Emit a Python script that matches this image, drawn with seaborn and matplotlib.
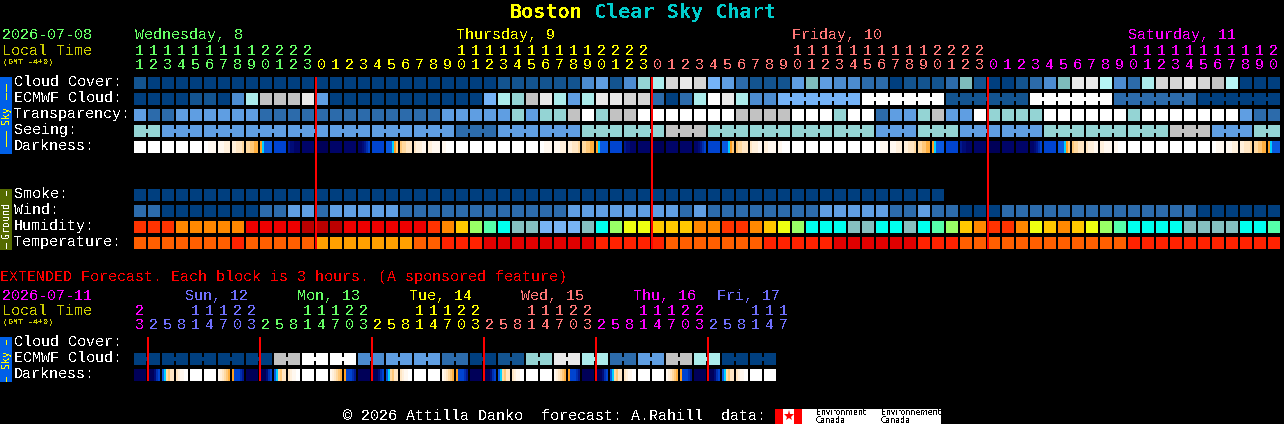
import numpy as np
import matplotlib
matplotlib.use("Agg")
import matplotlib.pyplot as plt
from matplotlib.colors import ListedColormap
from matplotlib.patches import Rectangle
import seaborn as sns

W, H = 1284, 424
sns.set_theme(style="white")
plt.rcParams["font.family"] = ["Liberation Mono", "DejaVu Sans Mono", "DejaVu Sans"]
plt.rcParams["text.antialiased"] = False

# ---------- data ----------
LEVELS = {"0": "#003F7F", "1": "#135490", "2": "#2C6BAB", "3": "#4C8CD0", "4": "#5F9EE2",
          "5": "#75B3F7", "6": "#7EBCBC", "7": "#94D4D4", "8": "#ABEBEB", "9": "#C2C2C2",
          "A": "#D5D5D5", "B": "#E9E9E9", "C": "#FFFFFF", "D": "#B6F6F6"}
GROUND = {"r": "#FF3300", "o": "#FF8800", "g": "#FFC800", "y": "#EEFF11", "l": "#99FF66",
          "m": "#55FFAA", "t": "#00FFEE", "R": "#EE0000", "K": "#BB0000", "e": "#85BFBF",
          "u": "#78B4F4", "v": "#FF5F00", "a": "#FFA000", "f": "#FF2200", "x": "#E00000"}
DARK = {"W": "#FFFFFF", "a": "#FFF8F0", "b": "#FFF0DC", "c": "#FFE6C4", "d": "#FFD9A0",
        "e": "#FFC878", "f": "#FFB040", "o": "#FFA020", "y": "#00D0FF", "B": "#0A5AE0",
        "D": "#0044D0", "E": "#0030B0", "F": "#001890", "G": "#000C78", "H": "#000468",
        "N": "#000058"}

FIRST_HOUR = 11
CLOUD = "1000000000 0000000000 0000001111 11341378AB A542111464 3322011126 1001236BBD 328AABA9D000".replace(" ", "")
ECMWF = "0000110389 99B4000000 000005879B 848BBAA202 8CB833 555555 CCCCCC 111111 CCCCCC 222222 000000".replace(" ", "")
TRANSPARENCY = "4224444442 2222222222 2244444747 79C7 99CCCCCCC 9999CCC7CC 244794 4C7777CCCCCC7CCCCCCC422".replace(" ", "")
SEEING = "77 444444444444444444444 222 444444 777777 999 777777777777 444 777 444444 777777777 999 444 77".replace(" ", "")
SMOKE = "0000000000 0000000000 0000000000 0000000000 0000000000 00000000".replace(" ", "")
WIND = "22 0000000 22 44 2 44444 22 2222222222 44444444 2 4 22222222 44444 22 4 22 000 22222222222222 000000".replace(" ", "")
HUMIDITY = "rrr ooooo RRRR KKK RRRRRR r o g l m t e e uuu e t l y y ggg oo rr o g y l ttt ee tt e t m l g o rr o y g o g y l m tttt eeee tt m".replace(" ", "")
TEMPERATURE = "vvvvvvv f vvvvv aaaaaaa vv fff xxxxxxxx fffff vvvvvvv fffff xxxxxx fff vvvvvvvvvvvv fffffffffff".replace(" ", "")
DARKNESS = [
    "WWWWWW", "WWWWWW", "WWWWWW", "WWWWWW", "WWWWWW", "WWaaaa", "aaabbb", "bbcccd", "ddeeff", "oyBBBB",
    "DDDDDD", "FGGHHH", "HHHHHH", "NNNNNN", "HHHHHH", "HHHHHH", "HHGFED", "DDDDDD", "BBByoe", "eddccc",
    "cbbbaa", "bbaaaa", "aaWWWW", "WWWWWW", "WWWWWW", "WWWWWW", "WWWWWW", "WWWWWW", "WWWWWW", "WWaaaa",
    "aaabbb", "bbcccd", "ddeeff", "oyBBBB", "DDDDDD", "FGGHHH", "HHHHHH", "NNNNNN", "HHHHHH", "HHHHHH",
    "HHGFED", "DDDDDD", "BBByoe", "eddccc", "cbbbaa", "bbaaaa", "aaWWWW", "WWWWWW", "WWWWWW", "WWWWWW",
    "WWWWWW", "WWWWWW", "WWWWWW", "WWaaaa", "aaabbb", "bbcccd", "ddeeff", "oyBBBB", "DDDDDD", "FGGHHH",
    "HHHHHH", "NNNNNN", "HHHHHH", "HHHHHH", "HHGFED", "DDDDDD", "BBByoe", "eddccc", "cbbbaa", "bbaaaa",
    "aaWWWW", "WWWWWW", "WWWWWW", "WWWWWW", "WWWWWW", "WWWWWW", "WWWWWW", "WWaaaa", "aaabbb", "bbcccd",
    "ddeeff", "oyBBBB"]
SEEING_RUNS = [2] + [3] * 26 + [2]
ECMWF_RUNS = [1] * 46 + [6] * 6

EXT_ECMWF = "0000000000 9 9 C C C C 3 3 4 4 4 4 2 2 0 0 1 1 7 7 B B 8 8 2 2 4 4 9 9 8 8 0 0 0 0".replace(" ", "")
EXT_DARKNESS = [
    "NNNNNN", "NNNGED", "Bydecc", "cbaaWW", "WWWWWW", "WWWWWW", "abcdef", "oDDDEF",
    "NNNNNN", "NNNGED", "Bydecc", "cbaaWW", "WWWWWW", "WWWWWW", "abcdef", "oDDDEF",
    "NNNNNN", "NNNGED", "Bydecc", "cbaaWW", "WWWWWW", "WWWWWW", "abcdef", "oDDDEF",
    "NNNNNN", "NNNGED", "Bydecc", "cbaaWW", "WWWWWW", "WWWWWW", "abcdef", "oDDDEF",
    "NNNNNN", "NNNGED", "Bydecc", "cbaaWW", "WWWWWW", "WWWWWW", "abcdef", "oDDDEF",
    "NNNNNN", "NNNGED", "Bydecc", "cbaaWW", "WWWWWW", "WWWWWW"]
EXT_RUNS = [2] * 23
EXT_HOURS = [23, 2, 5, 8, 11, 14, 17, 20, 23, 2, 5, 8, 11, 14, 17, 20, 23, 2, 5, 8, 11, 14, 17, 20, 23,
             2, 5, 8, 11, 14, 17, 20, 23, 2, 5, 8, 11, 14, 17, 20, 23, 2, 5, 8, 11, 14, 17]

DAY_COLORS = ["#66FF66", "#FFFF00", "#FF7777", "#FF00FF", "#7070FF", "#66FF66", "#FFFF00", "#FF7777", "#FF00FF", "#7070FF"]
MAIN_DAYS = ["Wednesday, 8", "Thursday, 9", "Friday, 10", "Saturday, 11"]
EXT_DAYS = ["Sun, 12", "Mon, 13", "Tue, 14", "Wed, 15", "Thu, 16", "Fri, 17"]
EXT_DAY_COLORS = ["#7070FF", "#66FF66", "#FFFF00", "#FF7777", "#FF00FF", "#7070FF"]
SKY_LABELS = ["Cloud Cover:", "ECMWF Cloud:", "Transparency:", "Seeing:", "Darkness:"]
GROUND_LABELS = ["Smoke:", "Wind:", "Humidity:", "Temperature:"]
EXT_LABELS = ["Cloud Cover:", "ECMWF Cloud:", "Darkness:"]

for _row in (CLOUD, ECMWF, TRANSPARENCY, SEEING, WIND, HUMIDITY, TEMPERATURE, DARKNESS):
    assert len(_row) == 82, len(_row)
assert len(SMOKE) == 58 and len(EXT_ECMWF) == 46 and len(EXT_DARKNESS) == 46

# ---------- colour table ----------
hexes = []
for table in (LEVELS, GROUND, DARK):
    for c in table.values():
        if c not in hexes:
            hexes.append(c)
index = {c: i for i, c in enumerate(hexes)}
cmap = ListedColormap(hexes)


def runs_to_joins(runs):
    joins, k = set(), 0
    for n in runs:
        for j in range(n - 1):
            joins.add(k + j)
        k += n
    return joins


def put_blocks(m, top, codes, table, runs=None):
    joins = runs_to_joins(runs) if runs else set()
    for k, ch in enumerate(codes):
        v = index[table[ch]]
        m[top:top + 3, 7 * k:7 * k + 6] = v
        if k in joins:
            m[top + 1, 7 * k + 6] = v


def put_ramps(m, top, ramps):
    for k, ramp in enumerate(ramps):
        for j, ch in enumerate(ramp):
            m[top:top + 3, 7 * k + j] = index[DARK[ch]]


def panel(x0, y0, cols, rows):
    # each matrix cell is 2 px wide and 4 px tall
    w, h = cols * 2, rows * 4
    return fig.add_axes([x0 / W, 1 - (y0 + h) / H, w / W, h / H])


fig = plt.figure(figsize=(W / 100, H / 100), dpi=100, facecolor="black")

# main panel
main = np.full((43, 82 * 7), np.nan)
put_blocks(main, 0, CLOUD, LEVELS)
put_blocks(main, 4, ECMWF, LEVELS, ECMWF_RUNS)
put_blocks(main, 8, TRANSPARENCY, LEVELS)
put_blocks(main, 12, SEEING, LEVELS, SEEING_RUNS)
put_ramps(main, 16, DARKNESS)
put_blocks(main, 28, SMOKE, LEVELS)
put_blocks(main, 32, WIND, LEVELS)
put_blocks(main, 36, HUMIDITY, GROUND)
put_blocks(main, 40, TEMPERATURE, GROUND)
ax_main = panel(134, 77, main.shape[1], main.shape[0])
sns.heatmap(main, ax=ax_main, cmap=cmap, vmin=-0.5, vmax=len(hexes) - 0.5, cbar=False,
            xticklabels=False, yticklabels=False, mask=np.isnan(main))
ax_main.set_facecolor("black")

# extended panel
ext = np.full((7, 46 * 7), np.nan)
put_blocks(ext, 0, EXT_ECMWF, LEVELS, EXT_RUNS)
put_ramps(ext, 4, EXT_DARKNESS)
ax_ext = panel(134, 353, ext.shape[1], ext.shape[0])
sns.heatmap(ext, ax=ax_ext, cmap=cmap, vmin=-0.5, vmax=len(hexes) - 0.5, cbar=False,
            xticklabels=False, yticklabels=False, mask=np.isnan(ext))
ax_ext.set_facecolor("black")

# overlay in pixel coordinates
ov = fig.add_axes([0, 0, 1, 1], zorder=5)
ov.set_xlim(0, W)
ov.set_ylim(H, 0)
ov.axis("off")
ov.patch.set_alpha(0)

PX = 0.72
BODY = 15 * PX
LIFT = 1


def label(x, y, s, color="white", size=BODY, **kw):
    kw.setdefault("va", "baseline")
    kw.setdefault("ha", "left")
    return ov.text(x, y - LIFT, s, color=color, fontsize=size, **kw)


# title
label(510, 19, "Boston", "#FFFF00", 20.2 * PX, fontweight="bold", family="DejaVu Sans Mono")
label(594, 19, "Clear Sky Chart", "#00CCCC", 20.2 * PX, fontweight="bold", family="DejaVu Sans Mono")

# left header
label(2, 40, "2026-07-08", "#66FF66")
label(2, 56, "Local Time", "#CCCC00")
label(3, 65, "(GMT -4+0)", "#CCCC00", 8.3 * PX)

# main hours
for k in range(len(CLOUD)):
    absolute = FIRST_HOUR + k
    hour = absolute % 24
    col = DAY_COLORS[absolute // 24]
    x = 134 + 14 * k + 1
    label(x, 70, str(hour % 10), col)
    if hour >= 10:
        label(x, 56, str(hour // 10), col)
    if hour == 0:
        ov.vlines(134 + 14 * k, 77, 249, color="#FF0000", lw=2 * PX)
    if k == 0:
        label(x, 40, MAIN_DAYS[absolute // 24], col)
    elif hour == 10:
        label(x - 1, 40, MAIN_DAYS[absolute // 24], col)

for i, s in enumerate(SKY_LABELS):
    label(14, 87 + 16 * i, s)
for i, s in enumerate(GROUND_LABELS):
    label(14, 199 + 16 * i, s)

# tabs
ov.add_patch(Rectangle((0, 77), 12, 77, color="#0060E8", lw=0))
ov.add_patch(Rectangle((0, 189), 12, 61, color="#556B00", lw=0))
ov.add_patch(Rectangle((0, 337), 12, 45, color="#0060E8", lw=0))
tab = dict(rotation=90, ha="center", va="center", fontsize=10 * PX, family="DejaVu Sans Mono")
ov.text(6, 115.5, "Sky", color="#FFFF00", **tab)
ov.text(6, 219.5, "Ground", color="white", **tab)
ov.text(6, 359.5, "Sky", color="#FFFF00", **tab)
dash = dict(lw=1.0 * PX, solid_capstyle="butt", dash_capstyle="butt", antialiased=False)
for y0, y1, col in ((84, 91, "#FFFF00"), (93, 99, "#FFFF00"), (131, 139, "#FFFF00"), (140, 146, "#FFFF00"),
                    (191, 195, "white"), (243, 248, "white"), (340, 344, "#FFFF00"), (377, 381, "#FFFF00")):
    ov.plot([5.5, 5.5], [y0, y1], color=col, **dash)

# extended
label(0, 282, "EXTENDED Forecast. Each block is 3 hours. (A sponsored feature)", "#FF0000")
label(2, 301, "2026-07-11", "#FF00FF")
label(2, 316, "Local Time", "#CCCC00")
label(3, 325, "(GMT -4+0)", "#CCCC00", 8.3 * PX)
day = 3
for k, hour in enumerate(EXT_HOURS):
    if k and hour < EXT_HOURS[k - 1]:
        day += 1
    col = DAY_COLORS[day]
    x = 134 + 14 * k + 1
    label(x, 330, str(hour % 10), col)
    if hour >= 10:
        label(x, 316, str(hour // 10), col)
    if k and hour < EXT_HOURS[k - 1]:
        ov.vlines(134 + 14 * k, 337, 381, color="#FF0000", lw=2 * PX)
for name, col, x in zip(EXT_DAYS, EXT_DAY_COLORS, (185, 297, 409, 521, 633, 717)):
    label(x, 301, name, col)
for s, y in zip(EXT_LABELS, (347, 363, 379)):
    label(14, y, s)

# footer
label(343, 421, "\u00a9 2026 Attilla Danko  forecast: A.Rahill  data:")
ov.add_patch(Rectangle((775, 409), 166, 15, color="white", lw=0))
ov.add_patch(Rectangle((775, 409), 8, 15, color="#FF0000", lw=0))
ov.add_patch(Rectangle((794, 409), 8, 15, color="#FF0000", lw=0))
ov.plot([788.5], [416], marker="*", ms=8, color="#FF0000", mew=0)
for x, w1 in ((816, "Environment"), (881, "Environnement")):
    ov.text(x, 415, w1, color="black", fontsize=7.8 * PX, family="DejaVu Sans", va="baseline")
    ov.text(x, 423, "Canada", color="black", fontsize=7.8 * PX, family="DejaVu Sans", va="baseline")

fig.savefig("out.png", dpi=100, facecolor="black")
